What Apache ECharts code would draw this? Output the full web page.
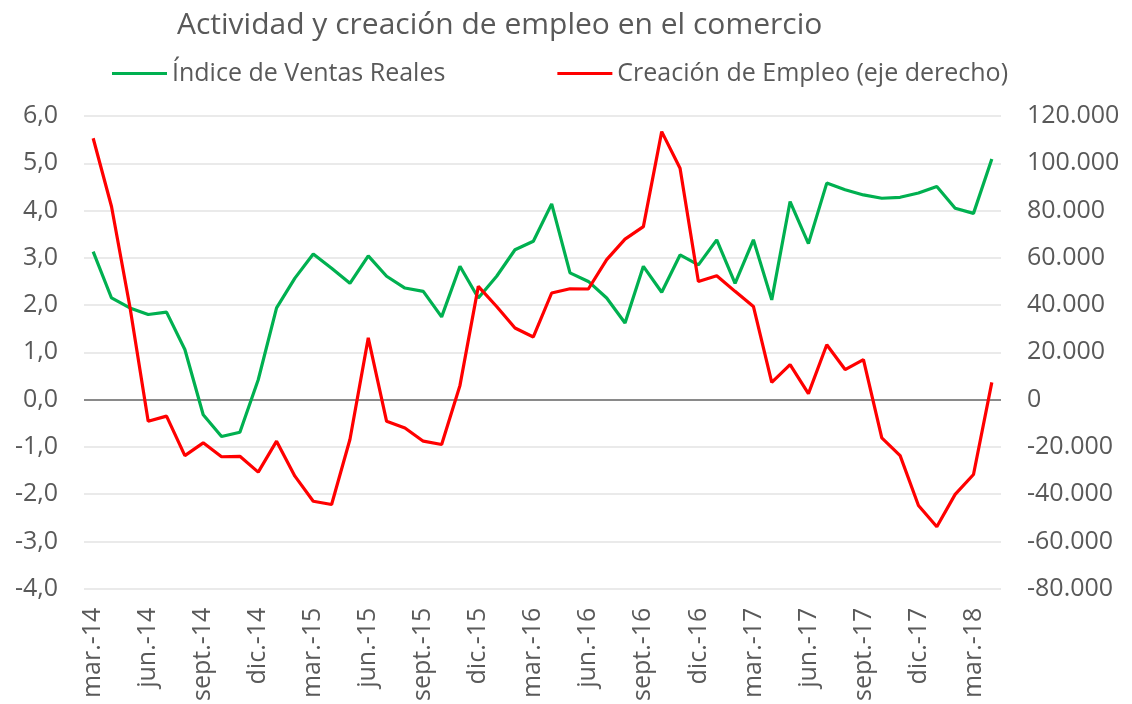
<!DOCTYPE html>
<html>
<head>
<meta charset="utf-8">
<title>Actividad y creación de empleo en el comercio</title>
<script src="https://cdn.jsdelivr.net/npm/echarts@6/dist/echarts.min.js"></script>
<style>
  html, body { margin: 0; padding: 0; background: #fff; }
  #main { width: 1132px; height: 704px; }
</style>
</head>
<body>
<div id="main"></div>
<script>
// meses, de mar.-14 a abr.-18
var months = ['ene.', 'feb.', 'mar.', 'abr.', 'may.', 'jun.', 'jul.', 'ago.', 'sept.', 'oct.', 'nov.', 'dic.'];
var categories = [];
for (var k = 2; k < 2 + 50; k++) {
  categories.push(months[k % 12] + '-' + (14 + Math.floor(k / 12)));
}

var ventas = [3.13, 2.15, 1.94, 1.80, 1.85, 1.06, -0.32, -0.78, -0.69, 0.42,
  1.94, 2.57, 3.08, 2.78, 2.46, 3.04, 2.61, 2.36, 2.29, 1.75,
  2.82, 2.15, 2.61, 3.17, 3.35, 4.14, 2.68, 2.50, 2.15, 1.62,
  2.82, 2.27, 3.06, 2.85, 3.38, 2.46, 3.38, 2.11, 4.19, 3.30,
  4.58, 4.44, 4.33, 4.26, 4.28, 4.37, 4.51, 4.05, 3.94, 5.09];

var empleo = [110600, 81700, 39400, -9200, -7000, -23700, -18300, -24200, -24000, -30700,
  -17600, -32400, -43000, -44400, -16900, 26100, -9200, -12000, -17600, -19000,
  6000, 47900, 39400, 30300, 26500, 45100, 46900, 46800, 59200, 67900,
  73200, 113400, 97900, 50000, 52400, 45800, 39400, 7300, 14800, 2500,
  23200, 12700, 16900, -16200, -23700, -44800, -53800, -40100, -31700, 7300];

var leftTicks = { min: -4, max: 6, interval: 1 };
var rightTicks = { min: -80000, max: 120000, interval: 20000 };

var myChart = echarts.init(document.getElementById('main'));
var font = 'Open Sans';
var txt = '#595959';

var option = {
  backgroundColor: '#fff',
  animation: false,
  title: {
    text: 'Actividad y creación de empleo en el comercio',
    left: 172,
    top: 5,
    textStyle: { fontFamily: font, fontSize: 30, fontWeight: 'normal', color: '#595959' }
  },
  legend: {
    left: 107,
    top: 56,
    itemWidth: 55,
    itemHeight: 3,
    itemGap: 112,
    icon: 'rect',
    textStyle: { fontFamily: font, fontSize: 25, color: txt },
    data: ['Índice de Ventas Reales', 'Creación de Empleo (eje derecho)']
  },
  grid: { left: 84, right: 131, top: 116, bottom: 115 },
  xAxis: {
    type: 'category',
    data: categories,
    boundaryGap: true,
    axisLine: { show: false, onZero: false },
    axisTick: { show: false },
    axisLabel: {
      interval: 2,
      rotate: 90,
      margin: 19,
      fontFamily: font,
      fontSize: 25,
      color: txt
    },
    splitLine: { show: false }
  },
  yAxis: [{
    type: 'value',
    min: leftTicks.min,
    max: leftTicks.max,
    interval: leftTicks.interval,
    axisLine: { show: false },
    axisTick: { show: false },
    axisLabel: {
      margin: 26,
      fontFamily: font,
      fontSize: 25,
      color: txt,
      formatter: function (v) { return v.toFixed(1).replace('.', ','); }
    },
    splitLine: { lineStyle: { color: '#e3e3e3', width: 1.5 } }
  }, {
    type: 'value',
    min: rightTicks.min,
    max: rightTicks.max,
    interval: rightTicks.interval,
    axisLine: { show: false },
    axisTick: { show: false },
    axisLabel: {
      margin: 26,
      fontFamily: font,
      fontSize: 25,
      color: txt,
      formatter: function (v) {
        return String(v).replace(/\B(?=(\d{3})+(?!\d))/g, '.');
      }
    },
    splitLine: { show: false }
  }],
  series: [{
    name: 'Índice de Ventas Reales',
    type: 'line',
    yAxisIndex: 0,
    data: ventas,
    symbol: 'none',
    z: 3,
    itemStyle: { color: '#00b050' },
    lineStyle: { color: '#00b050', width: 3.2 },
    markLine: {
      silent: true,
      symbol: 'none',
      label: { show: false },
      lineStyle: { color: '#8a8a8a', width: 2, type: 'solid' },
      data: [{ yAxis: 0 }],
      z: 1
    }
  }, {
    name: 'Creación de Empleo (eje derecho)',
    type: 'line',
    yAxisIndex: 1,
    data: empleo,
    symbol: 'none',
    z: 4,
    itemStyle: { color: '#ff0000' },
    lineStyle: { color: '#ff0000', width: 3.2 }
  }]
};

myChart.setOption(option);
</script>
</body>
</html>
